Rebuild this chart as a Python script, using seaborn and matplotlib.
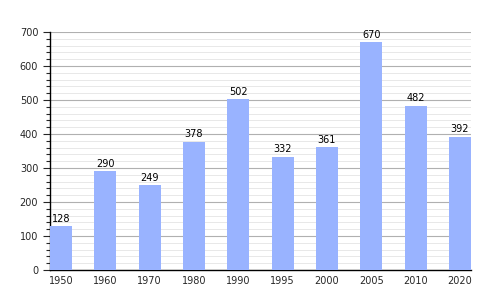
import matplotlib
matplotlib.use("Agg")
import matplotlib.pyplot as plt
import seaborn as sns
import pandas as pd
from matplotlib.ticker import MultipleLocator

years = ["1950", "1960", "1970", "1980", "1990", "1995", "2000", "2005", "2010", "2020"]
values = [128, 290, 249, 378, 502, 332, 361, 670, 482, 392]

df = pd.DataFrame({"year": years, "value": values})

sns.set_style("white")
plt.rcParams['font.family'] = ['DejaVu Sans']

fig = plt.figure(figsize=(5, 3), dpi=100)
ax = fig.add_axes([0.1, 0.1, 0.842, 0.793])

sns.barplot(data=df, x="year", y="value", color="#99b3ff", saturation=1, width=0.5,
            linewidth=0, edgecolor="none", ax=ax, zorder=3)

for i, v in enumerate(values):
    ax.text(i, v + 8, str(v), ha="center", va="bottom", fontsize=7, color="black")

ax.set_ylim(0, 700)
ax.set_xlim(-0.25, 9.25)
ax.yaxis.set_major_locator(MultipleLocator(100))
ax.yaxis.set_minor_locator(MultipleLocator(20))
ax.grid(which="major", axis="y", color="#b0b0b0", linewidth=0.8, zorder=0)
ax.grid(which="minor", axis="y", color="#e8e8e8", linewidth=0.7, zorder=0)
ax.set_axisbelow(True)

for s in ["top", "right"]:
    ax.spines[s].set_visible(False)
ax.spines["left"].set_color("black")
ax.spines["bottom"].set_color("black")
ax.spines["left"].set_linewidth(1)
ax.spines["bottom"].set_linewidth(1)

ax.tick_params(axis="y", which="major", length=5, width=0.8, direction="out", labelsize=7, left=True)
ax.tick_params(axis="y", which="minor", length=3, width=0.8, direction="out", left=True)
ax.tick_params(axis="x", length=0, labelsize=7, pad=4)
ax.set_xlabel("")
ax.set_ylabel("")

fig.savefig("out.png", dpi=100)
